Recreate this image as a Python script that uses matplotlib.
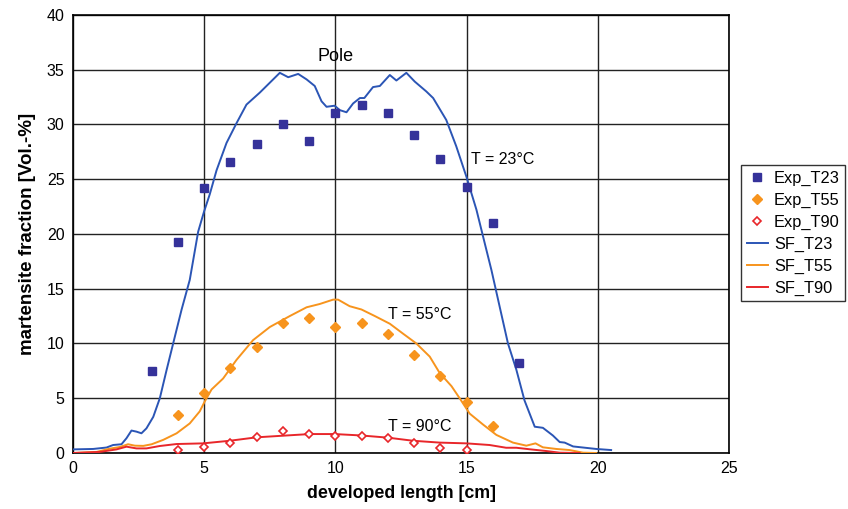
import matplotlib
matplotlib.use("Agg")
import matplotlib.pyplot as plt

plt.rcParams["font.family"] = ["Liberation Sans", "DejaVu Sans"]

# measured points
exp_x = [3, 4, 5, 6, 7, 8, 9, 10, 11, 12, 13, 14, 15, 16, 17]
exp_t23 = [7.5, 19.3, 24.2, 26.6, 28.2, 30.0, 28.5, 31.0, 31.8, 31.0, 29.0, 26.8, 24.3, 21.0, 8.2]
exp55_x = [4, 5, 6, 7, 8, 9, 10, 11, 12, 13, 14, 15, 16]
exp_t55 = [3.5, 5.5, 7.8, 9.7, 11.9, 12.3, 11.5, 11.9, 10.9, 8.95, 7.0, 4.7, 2.5]
exp90_x = [4, 5, 6, 7, 8, 9, 10, 11, 12, 13, 14, 15]
exp_t90 = [0.25, 0.55, 0.9, 1.5, 2.0, 1.7, 1.55, 1.55, 1.35, 0.9, 0.5, 0.25]

# simulation curves
sf23_x = [0.0, 0.77, 1.28, 1.53, 1.85, 2.04, 2.23, 2.42, 2.61, 2.8, 3.06, 3.31, 3.57,
          3.88, 4.14, 4.45, 4.77, 4.99, 5.21, 5.47, 5.85, 6.23, 6.61, 7.12, 7.5, 7.88,
          8.2, 8.58, 8.9, 9.21, 9.47, 9.66, 9.97, 10.16, 10.42, 10.67, 10.93, 11.1,
          11.43, 11.69, 12.07, 12.32, 12.7, 13.02, 13.46, 13.72, 14.22, 14.6, 14.99,
          15.37, 15.68, 15.94, 16.25, 16.57, 16.89, 17.2, 17.59, 17.9, 18.28, 18.54,
          18.73, 19.05, 19.93, 20.5]
sf23_y = [0.33, 0.37, 0.5, 0.73, 0.8, 1.35, 2.05, 1.95, 1.8, 2.25, 3.3, 5.0, 7.6,
          10.6, 13.1, 15.8, 20.2, 22.0, 23.6, 25.8, 28.3, 30.1, 31.8, 32.9, 33.8, 34.7,
          34.3, 34.6, 34.1, 33.5, 32.1, 31.6, 31.7, 31.3, 31.1, 31.9, 32.4, 32.4,
          33.4, 33.5, 34.5, 34.0, 34.7, 33.9, 33.0, 32.4, 30.4, 28.0, 25.2,
          22.2, 19.2, 16.7, 13.4, 10.0, 7.6, 4.8, 2.4, 2.3, 1.6, 1.0,
          0.95, 0.6, 0.37, 0.27]
sf55_x = [0.0, 0.9, 1.41, 1.79, 2.1, 2.36, 2.68, 3.0, 3.44, 3.95, 4.45, 4.83, 5.02,
          5.28, 5.72, 6.23, 6.86, 7.5, 8.26, 8.9, 9.4, 9.91, 10.1, 10.54, 10.99, 11.5,
          12.07, 12.57, 13.08, 13.59, 13.97, 14.42, 14.73, 15.11, 15.62, 16.13, 16.76,
          17.27, 17.62, 17.9, 18.41, 18.92, 19.43, 19.93]
sf55_y = [0.0, 0.1, 0.4, 0.55, 0.8, 0.67, 0.65, 0.8, 1.2, 1.8, 2.7, 3.8, 4.7,
          5.8, 6.8, 8.5, 10.3, 11.5, 12.5, 13.3, 13.6, 14.0, 14.0, 13.4, 13.1, 12.5,
          11.8, 10.9, 10.0, 8.8, 7.3, 6.1, 5.0, 3.6, 2.6, 1.65, 0.95,
          0.67, 0.88, 0.52, 0.37, 0.27, 0.03, 0.0]
sf90_x = [0.0, 1.03, 1.66, 2.04, 2.42, 2.8, 3.31, 3.95, 4.96, 5.98, 6.99, 8.0, 9.02,
          9.97, 10.99, 12.0, 12.95, 13.97, 14.99, 15.87, 16.5, 16.89, 17.4, 18.03,
          18.54, 19.3]
sf90_y = [0.0, 0.1, 0.33, 0.58, 0.42, 0.42, 0.64, 0.82, 0.88, 1.12, 1.43, 1.58, 1.73,
          1.73, 1.6, 1.4, 1.12, 0.95, 0.88, 0.73, 0.48, 0.48, 0.34, 0.18,
          0.03, 0.0]

fig = plt.figure(figsize=(8.48, 5.09), dpi=100)
ax = fig.add_axes([0.086, 0.110, 0.774, 0.861])

ax.plot(exp_x, exp_t23, "s", color="#35329a", ms=6, label="Exp_T23", zorder=4)
ax.plot(exp55_x, exp_t55, "D", color="#f7941d", ms=5, label="Exp_T55", zorder=4)
ax.plot(exp90_x, exp_t90, "D", mfc="white", mec="#e8262a", mew=1.2, ms=4.5,
        label="Exp_T90", zorder=4)
ax.plot(sf23_x, sf23_y, color="#2b55b5", lw=1.4, label="SF_T23", zorder=3)
ax.plot(sf55_x, sf55_y, color="#f7941d", lw=1.4, label="SF_T55", zorder=3)
ax.plot(sf90_x, sf90_y, color="#e8262a", lw=1.4, label="SF_T90", zorder=3)

ax.text(10, 36.2, "Pole", ha="center", va="center", fontsize=13)
ax.text(15.15, 26.8, "T = 23°C", ha="left", va="center", fontsize=11.5)
ax.text(12.0, 12.6, "T = 55°C", ha="left", va="center", fontsize=11.5)
ax.text(12.0, 2.4, "T = 90°C", ha="left", va="center", fontsize=11.5)

ax.set_xlim(0, 25)
ax.set_ylim(0, 40)
ax.set_xticks(range(0, 26, 5))
ax.set_yticks(range(0, 41, 5))
ax.tick_params(length=0, labelsize=11.5, pad=6)
ax.grid(True, color="#222222", lw=1)
ax.set_axisbelow(True)
for s in ax.spines.values():
    s.set_color("black")
    s.set_linewidth(1.2)

ax.set_xlabel("developed length [cm]", fontsize=12.8, fontweight="bold", labelpad=6)
ax.set_ylabel("martensite fraction [Vol.-%]", fontsize=13.5, fontweight="bold", labelpad=8)

leg = ax.legend(loc="center left", bbox_to_anchor=(1.018, 0.502), fontsize=11.8,
                frameon=True, fancybox=False, edgecolor="black", borderpad=0.35,
                handlelength=1.3, handletextpad=0.35, labelspacing=0.42, borderaxespad=0)
leg.get_frame().set_linewidth(1)

fig.savefig("out.png", dpi=100)
